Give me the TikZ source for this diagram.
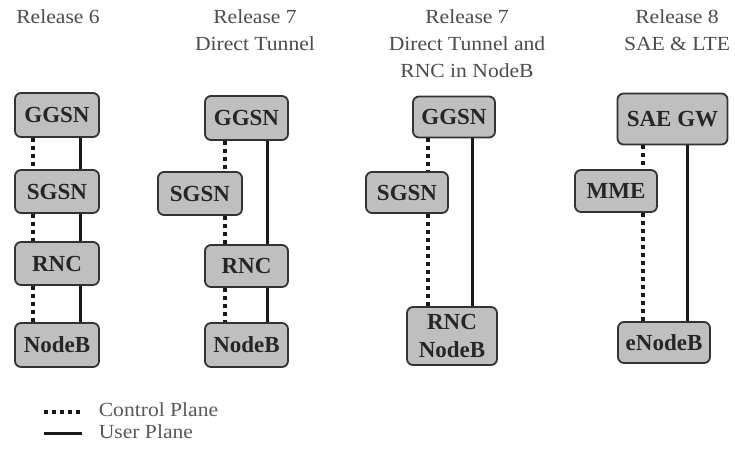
\documentclass[tikz,border=0pt]{standalone}
\usepackage{fontspec}
\setmainfont{Liberation Serif}
\begin{document}
\begin{tikzpicture}[x=1pt,y=-1pt,
  box/.style={draw=black!80, line width=1.8pt, fill=black!25, rounded corners=6pt,
    inner sep=0pt, font=\fontsize{23}{28}\selectfont\bfseries, text=black!85, align=center},
  title/.style={font=\fontsize{20}{27}\selectfont, text=black!70, align=center, anchor=north, xscale=1.08},
  ctrl/.style={line width=4pt, dash pattern=on 4pt off 4pt, black!90},
  user/.style={line width=3pt, black!90},
  legtext/.style={font=\fontsize{20}{22}\selectfont, text=black!65, anchor=west, xscale=1.08}]
\useasboundingbox[fill=white] (0,0) rectangle (735,448);
% titles
\node[title] (t1) at (58,6) {Release 6};
\node[title] (t2) at (255,6) {Release 7\\Direct Tunnel};
\node[title] (t3) at (467,6) {Release 7\\Direct Tunnel and\\RNC in NodeB};
\node[title] (t4) at (677,6) {Release 8\\SAE \& LTE};
% column 1
\node[box, minimum width=84pt, minimum height=44pt] (g1) at (57,115) {GGSN};
\node[box, minimum width=84pt, minimum height=43pt] (s1) at (57,191.5) {SGSN};
\node[box, minimum width=84pt, minimum height=43pt] (r1) at (57,263.5) {RNC};
\node[box, minimum width=84pt, minimum height=44pt] (n1) at (57,345) {NodeB};
\coordinate (c1) at (33,0);
\coordinate (u1) at (80,0);
\draw[ctrl] (g1.south -| c1) -- (s1.north -| c1);
\draw[ctrl] (s1.south -| c1) -- (r1.north -| c1);
\draw[ctrl] (r1.south -| c1) -- (n1.north -| c1);
\draw[user] (g1.south -| u1) -- (s1.north -| u1);
\draw[user] (s1.south -| u1) -- (r1.north -| u1);
\draw[user] (r1.south -| u1) -- (n1.north -| u1);
% column 2
\node[box, minimum width=83pt, minimum height=44pt] (g2) at (246.5,118) {GGSN};
\node[box, minimum width=84pt, minimum height=43pt] (s2) at (200,193.5) {SGSN};
\node[box, minimum width=83pt, minimum height=42pt] (r2) at (246.5,266) {RNC};
\node[box, minimum width=83pt, minimum height=44pt] (n2) at (246.5,345) {NodeB};
\coordinate (c2) at (225,0);
\coordinate (u2) at (267,0);
\draw[ctrl] (g2.south -| c2) -- (s2.north -| c2);
\draw[ctrl] (s2.south -| c2) -- (r2.north -| c2);
\draw[ctrl] (r2.south -| c2) -- (n2.north -| c2);
\draw[user] (g2.south -| u2) -- (r2.north -| u2);
\draw[user] (r2.south -| u2) -- (n2.north -| u2);
% column 3
\node[box, minimum width=82pt, minimum height=41pt] (g3) at (454,117) {GGSN};
\node[box, minimum width=82pt, minimum height=41pt] (s3) at (407,192.5) {SGSN};
\node[box, minimum width=90pt, minimum height=58pt, font=\fontsize{23}{28}\selectfont\bfseries] (r3) at (452,336) {RNC\\NodeB};
\coordinate (c3) at (428,0);
\coordinate (u3) at (472,0);
\draw[ctrl] (g3.south -| c3) -- (s3.north -| c3);
\draw[ctrl] (s3.south -| c3) -- (r3.north -| c3);
\draw[user] (g3.south -| u3) -- (r3.north -| u3);
% column 4
\node[box, minimum width=110pt, minimum height=51pt] (g4) at (672.5,119) {SAE GW};
\node[box, minimum width=82pt, minimum height=42pt] (m4) at (616,191) {MME};
\node[box, minimum width=92pt, minimum height=41pt] (e4) at (664,342.5) {eNodeB};
\coordinate (c4) at (643,0);
\coordinate (u4) at (687,0);
\draw[ctrl] (g4.south -| c4) -- (m4.north -| c4);
\draw[ctrl] (m4.south -| c4) -- (e4.north -| c4);
\draw[user] (g4.south -| u4) -- (e4.north -| u4);
% legend
\coordinate (la) at (44,412);
\coordinate (lb) at (82,412);
\coordinate (lc) at (44,433);
\coordinate (ld) at (82,433);
\draw[ctrl] (la) -- (lb);
\draw[user] (lc) -- (ld);
\node[legtext] (lt1) at (95,410) {Control Plane};
\node[legtext] (lt2) at (95,432) {User Plane};
\end{tikzpicture}
\end{document}
